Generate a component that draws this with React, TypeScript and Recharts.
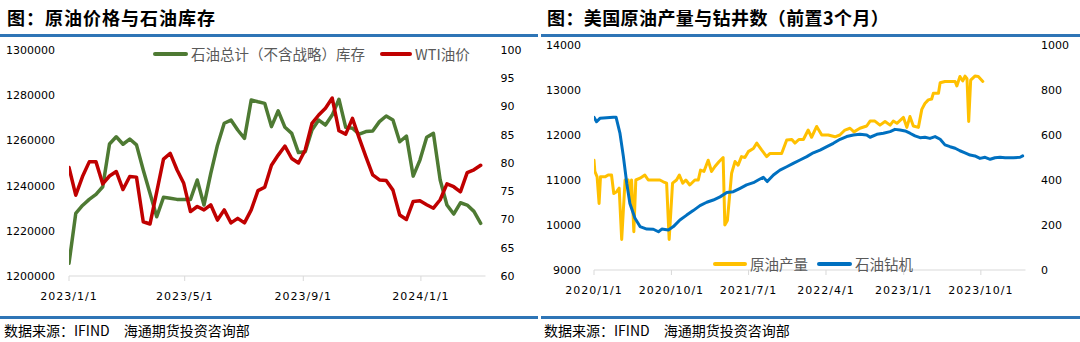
import React from 'react';
import { LineChart, Line, XAxis, YAxis } from 'recharts';

// ---------- Left chart: 原油价格与石油库存 ----------
const invDates = [
  "2023/1/1","2023/1/8","2023/1/15","2023/1/22","2023/1/29","2023/2/5","2023/2/12","2023/2/19","2023/2/26","2023/3/5",
  "2023/3/12","2023/3/19","2023/3/26","2023/4/2","2023/4/9","2023/4/16","2023/4/23","2023/4/30","2023/5/7","2023/5/14",
  "2023/5/21","2023/5/28","2023/6/4","2023/6/11","2023/6/18","2023/6/25","2023/7/2","2023/7/9","2023/7/16","2023/7/23",
  "2023/7/30","2023/8/6","2023/8/13","2023/8/20","2023/8/27","2023/9/3","2023/9/10","2023/9/17","2023/9/24","2023/10/1",
  "2023/10/8","2023/10/15","2023/10/22","2023/10/29","2023/11/5","2023/11/12","2023/11/19","2023/11/26","2023/12/3","2023/12/10",
  "2023/12/17","2023/12/24","2023/12/31","2024/1/7","2024/1/14","2024/1/21","2024/1/28","2024/2/4","2024/2/11","2024/2/18",
  "2024/2/25","2024/3/3"
];
const inventory = [
  1205600,1227700,1231200,1233900,1236100,1239500,1258400,1261600,1258300,1260600,
  1258000,1246900,1236600,1226200,1234800,1234400,1233900,1233900,1233900,1242500,
  1231400,1245300,1257900,1267600,1269000,1264600,1260900,1277900,1277100,1276400,
  1266100,1273100,1265800,1263100,1254600,1255000,1264600,1269000,1266800,1271200,
  1278200,1265800,1265400,1262800,1263900,1264200,1268300,1270800,1269000,1259400,
  1261900,1244200,1251300,1261400,1263100,1242500,1231400,1227400,1232400,1231400,
  1228600,1223300
];
const wti = [
  79.2,74.3,77.6,80.2,80.2,76.3,77.7,78.5,75.3,77.6,
  77.5,69.6,69.2,74.9,80.7,81.7,78.8,76.4,71.4,72.3,
  71.7,72.6,69.9,71.7,69.4,70.2,69.4,71.7,75.1,75.7,
  79.6,81.4,83.0,80.8,80.0,82.3,87.0,88.5,89.7,91.5,
  85.7,85.1,87.9,84.4,81.1,77.9,77.0,76.9,75.2,70.8,
  70.0,73.2,73.3,72.6,72.0,73.5,76.3,75.8,74.9,78.3,
  78.8,79.6
];
const leftXTicks = ["2023/1/1","2023/5/1","2023/9/1","2024/1/1"];
const leftXDomain = ["2023/1/1","2024/3/8"];
const invTicks = [1200000,1220000,1240000,1260000,1280000,1300000];
const wtiTicks = [60,65,70,75,80,85,90,95,100];

// ---------- Right chart: 美国原油产量与钻井数 ----------
const prodDates = [
  "2020/1/1","2020/1/4","2020/1/12","2020/1/19","2020/1/24","2020/2/9","2020/2/20","2020/3/3","2020/3/11","2020/3/21",
  "2020/3/30","2020/4/8","2020/4/20","2020/5/1","2020/5/7","2020/5/13","2020/5/21","2020/5/28","2020/6/12","2020/6/29",
  "2020/7/11","2020/8/21","2020/9/2","2020/9/14","2020/9/23","2020/10/5","2020/10/19","2020/10/29","2020/11/10","2020/11/21",
  "2020/12/5","2020/12/23","2021/1/4","2021/1/12","2021/1/24","2021/2/8","2021/2/20","2021/3/4","2021/3/19","2021/4/2",
  "2021/4/8","2021/4/17","2021/5/2","2021/5/14","2021/5/25","2021/6/6","2021/6/18","2021/6/30","2021/7/18","2021/7/30",
  "2021/8/16","2021/9/3","2021/9/15","2021/10/26","2021/11/13","2021/12/1","2021/12/12","2021/12/26","2022/1/11","2022/1/28",
  "2022/2/9","2022/2/27","2022/3/17","2022/4/9","2022/5/3","2022/5/20","2022/6/7","2022/6/25","2022/7/9","2022/7/30",
  "2022/8/23","2022/9/4","2022/9/21","2022/10/9","2022/10/27","2022/11/14","2022/11/25","2022/12/8","2022/12/31","2023/1/12",
  "2023/1/23","2023/2/4","2023/2/22","2023/3/6","2023/3/17","2023/3/29","2023/4/10","2023/4/16","2023/5/4","2023/5/10",
  "2023/5/27","2023/7/2","2023/7/8","2023/7/19","2023/7/29","2023/8/6","2023/8/13","2023/8/19","2023/8/26","2023/9/10",
  "2023/9/22","2023/10/8"
];
const production = [
  11440,11190,11070,10480,11070,11070,11110,11110,10700,10740,
  10820,9680,11000,11000,10560,11000,9850,11000,11040,11110,
  11000,11000,10960,10930,9680,10930,11000,11110,10930,11000,
  10890,11000,11000,11220,11190,11440,11190,11300,11410,11500,
  10000,10100,11150,11410,11330,11520,11500,11630,11700,11820,
  11670,11520,11590,11590,11890,11900,11820,11900,11900,12110,
  11950,12190,12000,12000,11960,12000,12110,12150,12070,12150,
  12200,12310,12310,12220,12300,12220,12310,12260,12390,12170,
  12410,12200,12170,12570,12700,12780,12800,12930,12930,13160,
  13190,13190,13090,13300,13200,13310,13250,12300,13220,13310,
  13300,13190
];
const rigDates = [
  "2020/1/1","2020/1/10","2020/1/22","2020/3/9","2020/3/19","2020/4/2","2020/4/14","2020/4/26","2020/5/7","2020/5/25",
  "2020/6/12","2020/7/6","2020/7/29","2020/8/16","2020/8/28","2020/9/20","2020/10/8","2020/10/31","2020/11/24","2020/12/17",
  "2021/1/10","2021/2/3","2021/2/26","2021/3/22","2021/4/15","2021/5/8","2021/6/1","2021/6/24","2021/7/18","2021/8/4",
  "2021/8/22","2021/9/5","2021/9/27","2021/10/20","2021/11/13","2021/12/6","2021/12/30","2022/1/23","2022/2/15","2022/3/11",
  "2022/4/4","2022/4/27","2022/5/21","2022/6/13","2022/7/7","2022/7/30","2022/8/23","2022/9/4","2022/9/28","2022/10/21",
  "2022/11/14","2022/12/1","2022/12/19","2023/1/6","2023/1/23","2023/2/10","2023/2/28","2023/3/17","2023/4/4","2023/4/22",
  "2023/5/10","2023/5/27","2023/6/14","2023/7/2","2023/7/19","2023/8/6","2023/8/24","2023/9/10","2023/9/28","2023/10/16",
  "2023/11/3","2023/11/20","2023/12/8","2023/12/26","2024/1/24","2024/2/17","2024/2/26"
];
const rigs = [
  679,659,674,679,679,607,504,385,296,230,
  193,182,181,170,182,178,193,222,244,264,
  286,301,311,325,344,348,363,378,388,400,
  412,393,422,444,459,474,489,504,521,533,
  548,563,581,593,600,603,600,590,603,608,
  615,625,622,618,608,596,588,590,585,593,
  581,556,548,541,530,521,511,507,496,501,
  492,499,501,499,499,501,507
];
const rightXTicks = ["2020/1/1","2020/10/1","2021/7/1","2022/4/1","2023/1/1","2023/10/1"];
const rightXDomain = ["2020/1/1","2024/3/7"];
const prodTicks = [9000,10000,11000,12000,13000,14000];
const rigTicks = [0,200,400,600,800,1000];

// ---------- helpers ----------
const toTs = (s: string) => {
  const [y, m, d] = s.split('/').map(Number);
  return Date.UTC(y, m - 1, d);
};
const fmtDate = (t: number) => {
  const d = new Date(t);
  return `${d.getUTCFullYear()}/${d.getUTCMonth() + 1}/${d.getUTCDate()}`;
};

const leftData = invDates.map((d, i) => ({ t: toTs(d), inv: inventory[i], wti: wti[i] }));
const prodData = prodDates.map((d, i) => ({ t: toTs(d), v: production[i] }));
const rigData = rigDates.map((d, i) => ({ t: toTs(d), r: rigs[i] }));

const GREEN = '#4E7A33';
const RED = '#C00000';
const YELLOW = '#FFC000';
const BLUE = '#0070C0';
const AXIS = '#D9D9D9';
const TICKFONT = { fill: '#000', fontSize: 11, fontFamily: 'DejaVu Sans' };
const XTICKFONT = { ...TICKFONT, letterSpacing: 1 };
const CJK = '"Noto Sans CJK SC", "Noto Sans", sans-serif';

const LegendItem = ({ x, y, color, w, label }: { x: number; y: number; color: string; w: number; label: string }) => (
  <div style={{ position: 'absolute', left: x, top: y - 10, height: 20, display: 'flex', alignItems: 'center', whiteSpace: 'nowrap' }}>
    <span style={{ display: 'inline-block', width: w, height: 4, background: color, borderRadius: 2 }} />
    <span style={{ marginLeft: 3, fontSize: 14.5, color: '#595959', fontFamily: CJK, lineHeight: '20px' }}>{label}</span>
  </div>
);

export default function App() {
  return (
    <div style={{ position: 'absolute', left: 0, top: 0, width: 1080, height: 342, background: '#fff', overflow: 'hidden' }}>
      {/* Titles */}
      <div style={{ position: 'absolute', left: 7, top: 5, fontFamily: CJK, fontWeight: 700, fontSize: 18, lineHeight: '24px', letterSpacing: 1, color: '#000', whiteSpace: 'nowrap' }}>
        图：原油价格与石油库存
      </div>
      <div style={{ position: 'absolute', left: 547, top: 5, fontFamily: CJK, fontWeight: 700, fontSize: 18, lineHeight: '24px', letterSpacing: 0.4, color: '#000', whiteSpace: 'nowrap' }}>
        图：美国原油产量与钻井数（前置3个月）
      </div>
      {/* top rules */}
      <div style={{ position: 'absolute', left: 0, top: 34, width: 538, height: 3, background: '#2E75B6' }} />
      <div style={{ position: 'absolute', left: 541, top: 34, width: 539, height: 3, background: '#2E75B6' }} />
      {/* bottom rules */}
      <div style={{ position: 'absolute', left: 0, top: 316, width: 538, height: 3, background: '#2E75B6' }} />
      <div style={{ position: 'absolute', left: 541, top: 316, width: 539, height: 3, background: '#2E75B6' }} />
      {/* sources */}
      <div style={{ position: 'absolute', left: 4, top: 321, fontFamily: CJK, fontSize: 14, lineHeight: '18px', color: '#000', whiteSpace: 'pre' }}>
        数据来源：IFIND　海通期货投资咨询部
      </div>
      <div style={{ position: 'absolute', left: 544, top: 321, fontFamily: CJK, fontSize: 14, lineHeight: '18px', color: '#000', whiteSpace: 'pre' }}>
        数据来源：IFIND　海通期货投资咨询部
      </div>

      {/* Left chart */}
      <div style={{ position: 'absolute', left: 0, top: 0 }}>
        <LineChart width={540} height={342} data={leftData} margin={{ top: 50, right: 0, bottom: 0, left: 0 }}>
          <XAxis
            dataKey="t"
            type="number"
            scale="time"
            domain={[toTs(leftXDomain[0]), toTs(leftXDomain[1])]}
            ticks={leftXTicks.map(toTs)}
            tickFormatter={fmtDate}
            height={66}
            stroke={AXIS}
            tickSize={5}
            tickMargin={11}
            tick={XTICKFONT}
            interval={0}
            allowDataOverflow
          />
          <YAxis
            yAxisId="inv"
            orientation="left"
            width={69}
            domain={[1200000, 1300000]}
            ticks={invTicks}
            axisLine={false}
            tickLine={false}
            tickSize={0}
            tickMargin={14}
            tick={TICKFONT}
            interval={0}
          />
          <YAxis
            yAxisId="wti"
            orientation="right"
            width={54.5}
            domain={[60, 100]}
            ticks={wtiTicks}
            axisLine={false}
            tickLine={false}
            tickSize={0}
            tickMargin={15}
            tick={{ ...TICKFONT, textAnchor: 'start' }}
            interval={0}
          />
          <Line yAxisId="inv" dataKey="inv" type="linear" stroke={GREEN} strokeWidth={3.5} dot={false} isAnimationActive={false} strokeLinejoin="round" strokeLinecap="round" />
          <Line yAxisId="wti" dataKey="wti" type="linear" stroke={RED} strokeWidth={3.5} dot={false} isAnimationActive={false} strokeLinejoin="round" strokeLinecap="round" />
        </LineChart>
      </div>

      {/* Right chart */}
      <div style={{ position: 'absolute', left: 540, top: 0 }}>
        <LineChart width={540} height={342} margin={{ top: 45, right: 0, bottom: 0, left: 0 }}>
          <XAxis
            dataKey="t"
            type="number"
            scale="time"
            domain={[toTs(rightXDomain[0]), toTs(rightXDomain[1])]}
            ticks={rightXTicks.map(toTs)}
            tickFormatter={fmtDate}
            height={72}
            stroke={AXIS}
            tickSize={5}
            tickMargin={11}
            tick={XTICKFONT}
            interval={0}
            allowDataOverflow
          />
          <YAxis
            yAxisId="prod"
            orientation="left"
            width={54}
            domain={[9000, 14000]}
            ticks={prodTicks}
            axisLine={false}
            tickLine={false}
            tickSize={0}
            tickMargin={13}
            tick={TICKFONT}
            interval={0}
          />
          <YAxis
            yAxisId="rig"
            orientation="right"
            width={54.5}
            domain={[0, 1000]}
            ticks={rigTicks}
            axisLine={false}
            tickLine={false}
            tickSize={0}
            tickMargin={15.5}
            tick={{ ...TICKFONT, textAnchor: 'start' }}
            interval={0}
          />
          <Line yAxisId="prod" data={prodData} dataKey="v" type="linear" stroke={YELLOW} strokeWidth={3} dot={false} isAnimationActive={false} strokeLinejoin="round" strokeLinecap="round" />
          <Line yAxisId="rig" data={rigData} dataKey="r" type="linear" stroke={BLUE} strokeWidth={3} dot={false} isAnimationActive={false} strokeLinejoin="round" strokeLinecap="round" />
        </LineChart>
      </div>

      {/* Legends */}
      <LegendItem x={153} y={54} color={GREEN} w={35} label="石油总计（不含战略）库存" />
      <LegendItem x={380} y={54} color={RED} w={32} label="WTI油价" />
      <LegendItem x={713} y={264} color={YELLOW} w={34} label="原油产量" />
      <LegendItem x={817} y={264} color={BLUE} w={35} label="石油钻机" />
    </div>
  );
}
